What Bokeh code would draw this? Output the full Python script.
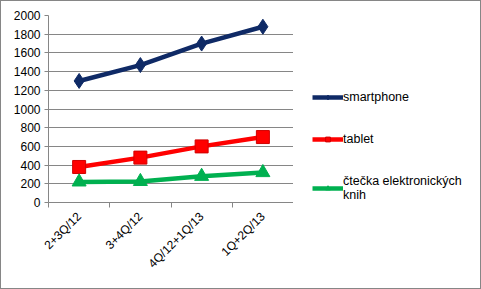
from bokeh.plotting import figure
from bokeh.models import FixedTicker, Range1d, Legend, LegendItem
from bokeh.layouts import row
from bokeh.embed import file_html
from bokeh.resources import INLINE
import math

categories = ["2+3Q/12", "3+4Q/12", "4Q/12+1Q/13", "1Q+2Q/13"]
smartphone = [1300, 1470, 1700, 1880]
tablet = [380, 480, 600, 700]
ctecka = [220, 225, 280, 320]
series_names = ["smartphone", "tablet", "čtečka elektronických\nknih"]
y_ticks = list(range(0, 2001, 200))

xs = [i + 0.5 for i in range(len(categories))]

FONT = "Liberation Sans"
GRID = "#868686"
c1, c2, c3 = "#0f2a66", "#ff0000", "#00b050"

p = figure(width=292, height=287, output_backend="svg", toolbar_location=None,
           x_range=Range1d(0, len(categories)), y_range=Range1d(0, 2000),
           min_border_left=47, min_border_top=14, min_border_bottom=86, min_border_right=0)
p.outline_line_color = None
p.background_fill_color = "white"
p.border_fill_color = "white"

p.xgrid.grid_line_color = None
p.ygrid.grid_line_color = GRID
p.ygrid.ticker = FixedTicker(ticks=y_ticks)

p.yaxis.ticker = FixedTicker(ticks=y_ticks)
p.yaxis.axis_line_color = GRID
p.yaxis.major_tick_line_color = GRID
p.yaxis.major_tick_out = 4
p.yaxis.major_tick_in = 0
p.yaxis.minor_tick_line_color = None
p.yaxis.major_label_text_font = FONT
p.yaxis.major_label_text_font_size = "12px"
p.yaxis.major_label_text_color = "#000000"
p.yaxis.major_label_standoff = 4

p.xaxis.ticker = FixedTicker(ticks=xs, minor_ticks=list(range(len(categories) + 1)))
p.xaxis.major_label_overrides = {x: c for x, c in zip(xs, categories)}
p.xaxis.major_label_orientation = math.pi / 4
p.xaxis.axis_line_color = GRID
p.xaxis.major_tick_line_color = None
p.xaxis.minor_tick_line_color = GRID
p.xaxis.minor_tick_out = 5
p.xaxis.minor_tick_in = 0
p.xaxis.major_label_text_font = FONT
p.xaxis.major_label_text_font_size = "12px"
p.xaxis.major_label_text_color = "#000000"
p.xaxis.major_label_standoff = 6

series = [smartphone, tablet, ctecka]
p.line(xs, smartphone, line_color=c1, line_width=4.5)
p.scatter(xs, smartphone, marker="diamond", size=15, fill_color=c1, line_color=c1)
p.line(xs, tablet, line_color=c2, line_width=4.5)
p.scatter(xs, tablet, marker="square", size=13, fill_color=c2, line_color="#d00000")
p.line(xs, ctecka, line_color=c3, line_width=4.5)
p.scatter(xs, ctecka, marker="triangle", size=14, fill_color=c3, line_color=c3)

# legend panel: a separate figure so the legend is not clipped by the plot area.
# Its ranges keep the (same) series out of view; only the legend keys show.
q = figure(width=187, height=287, output_backend="svg", toolbar_location=None,
           x_range=Range1d(0, 1), y_range=Range1d(-2, -1),
           x_axis_location=None, y_axis_location=None,
           min_border_left=0, min_border_right=0, min_border_top=0, min_border_bottom=0)
q.outline_line_color = None
q.grid.grid_line_color = None
q.background_fill_color = "white"
q.border_fill_color = "white"

styles = [(c1, "diamond", 10, c1), (c2, "square", 9, "#d00000"), (c3, "triangle", 10, c3)]
items = []
for name, vals, (col, mk, sz, lc) in zip(series_names, series, styles):
    lr = q.line(xs, vals, line_color=col, line_width=4.5)
    mr = q.scatter(xs, vals, marker=mk, size=sz, fill_color=col, line_color=lc)
    items.append(LegendItem(label=name, renderers=[lr, mr]))

legend = Legend(items=items, location=(19, 0))
legend.border_line_color = None
legend.background_fill_alpha = 0
legend.label_text_font = FONT
legend.label_text_font_size = "12.5px"
legend.label_text_color = "#000000"
legend.glyph_width = 31
legend.glyph_height = 12
legend.label_standoff = 0
legend.spacing = 28
legend.padding = 0
legend.margin = 0
q.add_layout(legend, "center")

layout = row(p, q, spacing=0)
layout.styles = {"border": "1px solid #868686", "background-color": "white"}

open("out.html", "w").write(file_html(layout, INLINE))
